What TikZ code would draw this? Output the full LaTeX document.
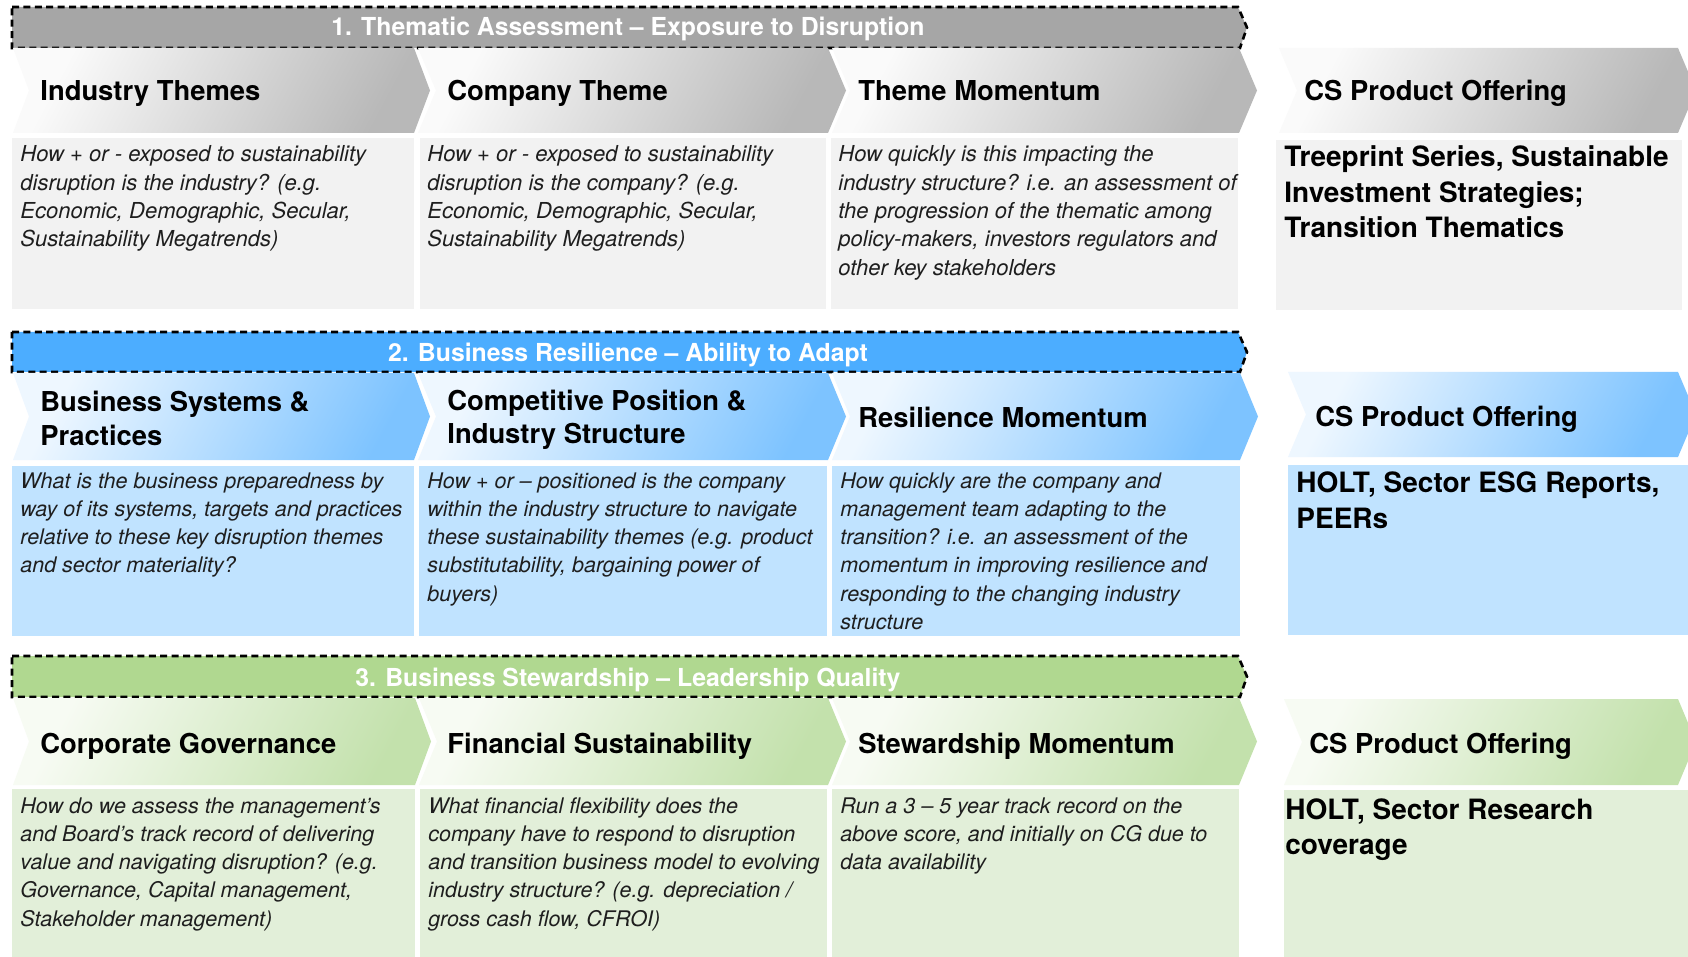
\documentclass[tikz,border=0pt]{standalone}
\usepackage{fontspec}
\setmainfont{TeX Gyre Heros}
\definecolor{greyBan}{HTML}{A6A6A6}
\definecolor{greyL}{HTML}{FAFAFA}
\definecolor{greyD}{HTML}{B8B8B8}
\definecolor{greyBox}{HTML}{F2F2F2}
\definecolor{blueBan}{HTML}{4CADFF}
\definecolor{blueL}{HTML}{EEF7FF}
\definecolor{blueD}{HTML}{7DC3FF}
\definecolor{blueBox}{HTML}{C0E3FF}
\definecolor{greenBan}{HTML}{B0D890}
\definecolor{greenL}{HTML}{F7FBF3}
\definecolor{greenD}{HTML}{C3E1AC}
\definecolor{greenBox}{HTML}{E2EFD9}
\definecolor{bodytext}{HTML}{1E1E1E}
% chevron: style, left, right, top, bottom, depth of tip/notch
\newcommand\chevronshape[6]{%
  \shade[#1] (#2,#4) -- (#3,#4) -- ({#3+#6},{(#4+#5)/2}) -- (#3,#5) -- (#2,#5)
    -- ({#2+#6},{(#4+#5)/2}) -- cycle;}
% dashed section banner: fill, top, bottom
\newcommand\bannershape[3]{%
  \path[banner, fill=#1] (12,#2) -- (1238,#2) -- (1247,{(#2+#3)/2}) -- (1240,#3)
    -- (12,#3) -- cycle;}
\begin{document}
\begin{tikzpicture}[x=0.5pt,y=-0.5pt,
  banner/.style={draw=black, line width=1.3pt, dash pattern=on 3.5pt off 2.2pt},
  bantext/.style={text=white, font=\bfseries\fontsize{12.4}{14}\selectfont, inner sep=0, anchor=base},
  head/.style={font=\bfseries\fontsize{13.7}{16.7}\selectfont, inner sep=0, anchor=base west},
  desc/.style={text=bodytext, font=\itshape\fontsize{11}{14.15}\selectfont, inner sep=0, anchor=base west},
  descn/.style={desc, font=\itshape\fontsize{10.75}{14.15}\selectfont},
  offer/.style={font=\bfseries\fontsize{14}{17.7}\selectfont, inner sep=0, anchor=base west},
  greychev/.style={top color=greyL, bottom color=greyD, shading angle=62},
  bluechev/.style={top color=blueL, bottom color=blueD, shading angle=62},
  greenchev/.style={top color=greenL, bottom color=greenD, shading angle=62},
]
\useasboundingbox (0,0) rectangle (1688,957);
\clip (0,0) rectangle (1688,957);
\fill[white] (0,0) rectangle (1688,957);

% ---------- 1. Thematic assessment ----------
\bannershape{greyBan}{7}{48}
\node[bantext] (ban1) at (628,36) {1. Thematic Assessment – Exposure to Disruption};
\chevronshape{greychev}{13}{414}{48}{133}{16}
\chevronshape{greychev}{418}{828}{48}{133}{18}
\chevronshape{greychev}{832}{1239}{48}{133}{18}
\chevronshape{greychev}{1279}{1678}{48}{133}{18}
\fill[greyBox] (12,138) rectangle (414,309);
\fill[greyBox] (420,138) rectangle (826,309);
\fill[greyBox] (831,138) rectangle (1238,309);
\fill[greyBox] (1276,140) rectangle (1682,310);
\node[head] (h11) at (40,101) {Industry Themes};
\node[head] (h12) at (447,101) {Company Theme};
\node[head] (h13) at (858,101) {Theme Momentum};
\node[head] (h14) at (1304,101) {CS Product Offering};
\node[desc] (d11) at (20,162) {\begin{tabular}[t]{@{}l@{}}How + or - exposed to sustainability\\disruption is the industry? (e.g.\\Economic, Demographic, Secular,\\Sustainability Megatrends)\end{tabular}};
\node[desc] (d12) at (427,162) {\begin{tabular}[t]{@{}l@{}}How + or - exposed to sustainability\\disruption is the company? (e.g.\\Economic, Demographic, Secular,\\Sustainability Megatrends)\end{tabular}};
\node[desc] (d13) at (838,162) {\begin{tabular}[t]{@{}l@{}}How quickly is this impacting the\\industry structure? i.e. an assessment of\\the progression of the thematic among\\policy-makers, investors regulators and\\other key stakeholders\end{tabular}};
\node[offer] (o1) at (1284,167) {\begin{tabular}[t]{@{}l@{}}Treeprint Series, Sustainable\\Investment Strategies;\\Transition Thematics\end{tabular}};

% ---------- 2. Business resilience ----------
\bannershape{blueBan}{332}{372}
\node[bantext] (ban2) at (628,362) {2. Business Resilience – Ability to Adapt};
\chevronshape{bluechev}{13}{414}{373}{460}{16}
\chevronshape{bluechev}{418}{828}{373}{460}{18}
\chevronshape{bluechev}{832}{1240}{373}{460}{18}
\chevronshape{bluechev}{1288}{1678}{372}{457}{18}
\fill[blueBox] (12,466) rectangle (414,636);
\fill[blueBox] (419,466) rectangle (827,636);
\fill[blueBox] (832,466) rectangle (1240,636);
\fill[blueBox] (1288,465) rectangle (1688,635);
\node[head] (h21) at (40,412) {\begin{tabular}[t]{@{}l@{}}Business Systems \&\\Practices\end{tabular}};
\node[head] (h22) at (447,410) {\begin{tabular}[t]{@{}l@{}}Competitive Position \&\\Industry Structure\end{tabular}};
\node[head] (h23) at (858,428) {Resilience Momentum};
\node[head] (h24) at (1315,427) {CS Product Offering};
\node[descn] (d21) at (20,488) {\begin{tabular}[t]{@{}l@{}}What is the business preparedness by\\way of its systems, targets and practices\\relative to these key disruption themes\\and sector materiality?\end{tabular}};
\node[descn] (d22) at (427,488) {\begin{tabular}[t]{@{}l@{}}How + or – positioned is the company\\within the industry structure to navigate\\these sustainability themes (e.g. product\\substitutability, bargaining power of\\buyers)\end{tabular}};
\node[descn] (d23) at (840,488) {\begin{tabular}[t]{@{}l@{}}How quickly are the company and\\management team adapting to the\\transition? i.e. an assessment of the\\momentum in improving resilience and\\responding to the changing industry\\structure\end{tabular}};
\node[offer] (o2) at (1296,493) {\begin{tabular}[t]{@{}l@{}}HOLT, Sector ESG Reports,\\PEERs\end{tabular}};

% ---------- 3. Business stewardship ----------
\bannershape{greenBan}{656}{697}
\node[bantext] (ban3) at (628,686) {3. Business Stewardship – Leadership Quality};
\chevronshape{greenchev}{13}{415}{698}{785}{16}
\chevronshape{greenchev}{419}{828}{698}{785}{18}
\chevronshape{greenchev}{832}{1239}{698}{785}{18}
\chevronshape{greenchev}{1284}{1678}{699}{785}{18}
\fill[greenBox] (12,789) rectangle (415,957);
\fill[greenBox] (420,789) rectangle (827,957);
\fill[greenBox] (832,789) rectangle (1239,957);
\fill[greenBox] (1284,790) rectangle (1688,957);
\node[head] (h31) at (40,753) {Corporate Governance};
\node[head] (h32) at (447,753) {Financial Sustainability};
\node[head] (h33) at (858,753) {Stewardship Momentum};
\node[head] (h34) at (1309,753) {CS Product Offering};
\node[descn] (d31) at (20,813) {\begin{tabular}[t]{@{}l@{}}How do we assess the management’s\\and Board’s track record of delivering\\value and navigating disruption? (e.g.\\Governance, Capital management,\\Stakeholder management)\end{tabular}};
\node[descn] (d32) at (428,813) {\begin{tabular}[t]{@{}l@{}}What financial flexibility does the\\company have to respond to disruption\\and transition business model to evolving\\industry structure? (e.g. depreciation /\\gross cash flow, CFROI)\end{tabular}};
\node[descn] (d33) at (840,813) {\begin{tabular}[t]{@{}l@{}}Run a 3 – 5 year track record on the\\above score, and initially on CG due to\\data availability\end{tabular}};
\node[offer] (o3) at (1285,819) {\begin{tabular}[t]{@{}l@{}}HOLT, Sector Research\\coverage\end{tabular}};
\end{tikzpicture}
\end{document}
